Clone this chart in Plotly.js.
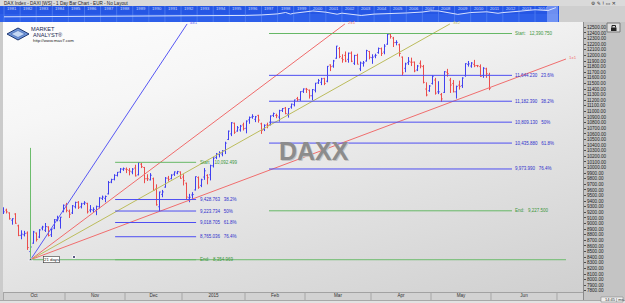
<!DOCTYPE html>
<html><head><meta charset="utf-8">
<script src="https://cdn.plot.ly/plotly-3.0.1.min.js"></script>
<style>
html,body{margin:0;padding:0;background:#d4d4d4;overflow:hidden;}
#chart{width:625px;height:303px;background:linear-gradient(165deg,#ffffff 0%,#f6f6f6 28%,#e2e2e2 62%,#cdcdcd 100%);}
</style></head><body><div id="chart"></div>
<script>
// ---------- DATA: DAX daily bars, Oct 1 2014 .. May 29 2015 (trading-day index 0..164) ----------
const barOpen = [9474,9383,9200,9240,9190,9060,9170,8960,8790,8800,8830,8500,8650,8830,8760,8920,8880,8940,8800,8920,9070,9050,9220,
9330,9220,9190,9300,9380,9300,9360,9360,9240,9240,9230,9300,9450,9450,9530,9740,9790,9860,9920,9970,
9970,9950,9920,9990,9870,10060,10000,9800,9780,9800,9620,9300,9520,9650,9810,9800,9880,9900,9920,
9830,9720,9460,9510,9600,9820,9680,9830,9860,9870,10030,10180,10230,10240,10300,10500,10600,10790,10650,10670,10760,
10700,10850,10900,10860,10930,10780,10680,10760,10770,10930,10930,10900,11020,11060,10950,11080,11120,11230,11210,11360,
11400,11380,11280,11380,11510,11520,11590,11540,11830,11810,11950,12120,11950,12000,11930,12040,11860,12000,11760,11860,11900,12070,
11960,11990,12050,12120,12060,12200,12380,12310,12230,12190,11970,11770,11870,11880,11880,11740,11860,11800,11400,11370,
11500,11560,11350,11300,11340,11700,11560,11500,11350,11470,11460,11640,11840,11810,11840,11820,11800,11640,11760,11650];
const barHigh = [9499,9395,9290,9266,9200,9095,9185,8980,8880,8870,8860,8620,8870,8840,8900,8960,9010,8950,8910,9080,9140,9120,9340,
9370,9250,9330,9390,9400,9370,9400,9370,9330,9290,9320,9470,9500,9500,9760,9800,9880,9920,9990,10000,
10000,9990,9990,10050,10093,10080,10010,9880,9900,9820,9700,9570,9600,9830,9850,9880,9930,9940,9930,
9880,9730,9530,9560,9840,9840,9800,9990,9880,10050,10190,10260,10290,10310,10460,10660,10810,10800,10740,10760,10800,
10840,10910,10950,10920,10940,10800,10770,10800,10930,10980,10960,11030,11060,11080,11060,11140,11210,11260,11360,11410,
11420,11390,11400,11510,11580,11600,11600,11810,11840,11920,12170,12150,12020,12070,12050,12070,12010,12030,11890,11900,12100,12080,
12020,12030,12140,12140,12200,12391,12390,12330,12270,12210,11980,11870,11970,11960,11890,11830,11910,11830,11520,11470,
11650,11600,11540,11330,11720,11760,11600,11560,11460,11550,11610,11860,11900,11880,11920,11830,11840,11790,11780,11690];
const barLow = [9370,9160,9170,9180,9070,8980,8995,8775,8720,8770,8530,8355,8640,8680,8740,8880,8850,8770,8760,8900,9040,8910,9200,
9200,9100,9170,9270,9260,9270,9330,9180,9200,9190,9150,9270,9420,9380,9520,9720,9770,9840,9900,9940,
9900,9860,9880,9840,9860,9990,9720,9760,9770,9580,9320,9220,9470,9640,9750,9790,9850,9880,9800,
9680,9430,9380,9440,9590,9620,9650,9780,9700,9770,10000,10150,10180,10200,10240,10490,10560,10600,10640,10640,10660,
10610,10780,10870,10810,10800,10600,10650,10700,10750,10900,10880,10820,10990,10950,10890,11050,11090,11180,11190,11330,
11330,11230,11200,11340,11490,11470,11470,11520,11720,11780,11940,11950,11870,11880,11870,11880,11830,11840,11720,11800,11890,11930,
11850,11950,12030,11990,12020,12190,12300,12150,12180,11980,11640,11700,11830,11810,11700,11720,11770,11500,11270,11350,
11480,11300,11310,11170,11330,11620,11330,11340,11230,11390,11420,11620,11800,11780,11790,11790,11620,11600,11600,11380];
const barClose = [9382,9195,9209,9209,9086,9086,9005,8788,8812,8825,8572,8582,8850,8717,8886,8940,8947,8788,8902,9068,9083,9114,9326,
9236,9166,9315,9377,9291,9351,9370,9210,9249,9252,9306,9456,9472,9483,9732,9785,9861,9915,9974,9980,
9963,9934,9971,9851,10087,10014,9799,9799,9862,9594,9335,9563,9564,9811,9787,9865,9922,9927,9806,
9765,9473,9470,9518,9838,9648,9782,9941,9818,10033,10168,10242,10257,10299,10435,10649,10798,10628,10710,10738,10694,
10828,10891,10911,10905,10846,10663,10753,10752,10919,10963,10924,11014,11051,10962,11051,11131,11206,11211,11353,11402,
11393,11280,11390,11504,11550,11582,11500,11806,11799,11901,12167,11980,11923,11899,12040,11896,12000,11843,11865,11868,12086,11966,
11969,12001,12124,12036,12166,12375,12338,12228,12232,12034,11688,11849,11896,11878,11723,11811,11811,11519,11294,11454,
11627,11327,11350,11224,11709,11674,11472,11351,11448,11447,11596,11853,11849,11864,11815,11815,11625,11771,11673,11413];

// month labels and first trading-day index of each month
const monthLabels = ['Oct','Nov','Dec','2015','Feb','Mar','Apr','May','Jun'];
const monthStart  = [0, 23, 43, 62, 83, 103, 125, 145, 165, 187];

// Gann fan (origin at Oct 16 low)
const fanOrigin = [11, 8354.969];
const fanEndDay   = [63.2, 115.8, 150.8, 189.5];
const fanEndPrice = [12561, 12561, 12561, 11936];
const fanLabels   = ['4x1','2x1','3x2','1x1'];
const fanBaseEnd  = 189.5;
const fanVertTop  = 10350;

// Fibonacci retracement 1 (Oct low -> Dec high)
const fib1Range  = [39.2, 66.2];
const fib1Levels = [10092.499, 9428.763, 9223.734, 9018.705, 8765.036, 8354.969];
const fib1Text   = ['Start    10,092.499','9,428.763   38.2%','9,223.734   50%','9,018.705   61.8%','8,765.036   76.4%','End:   8,354.969'];
// Fibonacci retracement 2 (Apr high -> target)
const fib2Range  = [90.5, 171.5];
const fib2Levels = [12390.750, 11644.230, 11182.390, 10809.130, 10435.880, 9973.990, 9227.500];
const fib2Text   = ['Start:   12,390.750','11,644.230   23.6%','11,182.390   38.2%','10,809.130   50%','10,435.880   61.8%','9,973.990   76.4%','End:   9,227.500'];

// overview strip (DAX history)
const ovYear  = [1981,1982,1983,1984,1985,1986,1987,1988,1989,1990,1991,1992,1993,1994,1995,1996,1997,1998,1998.5,1998.8,1999,2000,2000.2,2001,2001.7,2002,2002.8,2003.2,2004,2005,2006,2007,2007.5,2008,2009,2009.2,2010,2011,2011.7,2012,2013,2014,2014.8,2015,2015.3];
const ovValue = [490,550,770,1000,1000,1500,1400,1000,1330,1800,1400,1600,1550,2270,2100,2250,2890,4250,6000,4000,5000,6960,8000,6430,3800,5160,2600,2200,3960,4250,5400,6600,8100,8000,4800,3600,5950,6900,5000,5900,7600,9550,8500,9800,12300];
const ovYearLabels = [];
for (let y = 1981; y <= 2014; y++) ovYearLabels.push(y);

// ---------- helpers ----------
const W = 625, H = 303;
const PX = p => p / W;
const PY = p => 1 - p / H;
const FONT = 'Liberation Sans, Arial, sans-serif';
const BLUE = '#4040f0', RED = '#ec4c4c';

const traces = [];
// OHLC bars
traces.push({
  type: 'ohlc', x: barOpen.map((_, i) => i),
  open: barOpen, high: barHigh, low: barLow, close: barClose,
  increasing: {line: {color: BLUE, width: 1}},
  decreasing: {line: {color: RED, width: 1}},
  tickwidth: 0.4, hoverinfo: 'skip', showlegend: false
});
// fan lines
const fanColors = ['#5858f4', '#f06c6c', '#bcbc5c', '#f06e6e'];
fanEndDay.forEach((d, i) => {
  traces.push({type: 'scatter', mode: 'lines', x: [fanOrigin[0], d], y: [fanOrigin[1], fanEndPrice[i]],
    line: {color: fanColors[i], width: 1}, hoverinfo: 'skip', showlegend: false});
});
// fan horizontal & vertical (green)
traces.push({type: 'scatter', mode: 'lines', x: [fanOrigin[0], fanBaseEnd], y: [fanOrigin[1], fanOrigin[1]],
  line: {color: '#6cbc6c', width: 1}, hoverinfo: 'skip', showlegend: false});
traces.push({type: 'scatter', mode: 'lines', x: [fanOrigin[0], fanOrigin[0]], y: [fanOrigin[1], fanVertTop],
  line: {color: '#6cbc6c', width: 1}, hoverinfo: 'skip', showlegend: false});
// fib lines
function fibTraces(range, levels) {
  levels.forEach((v, i) => {
    const edge = (i === 0 || i === levels.length - 1);
    traces.push({type: 'scatter', mode: 'lines', x: range, y: [v, v],
      line: {color: edge ? '#66b866' : '#4e4ef2', width: 1}, hoverinfo: 'skip', showlegend: false});
  });
}
fibTraces(fib1Range, fib1Levels);
fibTraces(fib2Range, fib2Levels);
// fan origin markers
traces.push({type: 'scatter', mode: 'markers', x: [fanOrigin[0], 25.5], y: [fanOrigin[1], 8404],
  marker: {symbol: ['triangle-up', 'square'], size: [4, 3], color: '#1c1c5a'}, hoverinfo: 'skip', showlegend: false});
// overview line
traces.push({type: 'scatter', mode: 'lines', x: ovYear, y: ovValue, xaxis: 'x2', yaxis: 'y2',
  line: {color: '#d8e2ff', width: 1}, hoverinfo: 'skip', showlegend: false});

// ---------- shapes ----------
const shapes = [];
const rect = (x0, y0, x1, y1, fill, extra) => Object.assign({type: 'rect', xref: 'paper', yref: 'paper',
  x0: PX(x0), x1: PX(x1), y0: PY(y1), y1: PY(y0), fillcolor: fill, line: {width: 0}, layer: 'below'}, extra || {});
const hline = (x0, x1, y, col) => ({type: 'line', xref: 'paper', yref: 'paper', x0: PX(x0), x1: PX(x1), y0: PY(y), y1: PY(y), line: {color: col, width: 1}, layer: 'below'});
const vline = (x, y0, y1, col) => ({type: 'line', xref: 'paper', yref: 'paper', x0: PX(x), x1: PX(x), y0: PY(y0), y1: PY(y1), line: {color: col, width: 1}, layer: 'below'});

shapes.push(rect(0, 0, 625, 6, '#dadada'));
shapes.push(rect(0, 6, 559, 22, '#2556e4'));
shapes.push(rect(0, 14, 559, 22, '#2d5fea'));
shapes.push(rect(559, 6, 625, 22, '#cfcfcf'));
shapes.push(rect(0, 22, 3, 303, '#cbcbcb'));
shapes.push(rect(583, 22, 625, 300, '#c4c4c4'));
shapes.push(vline(583.5, 22, 300, '#8a8a8a'));
shapes.push(rect(3, 292, 583, 300, '#d2d2d2'));
shapes.push(hline(3, 583, 292.5, '#a2a2a2'));
shapes.push(rect(0, 300, 625, 303, '#e2e2e2'));
shapes.push(hline(0, 625, 300.5, '#a8a8a8'));
shapes.push(vline(3.5, 292, 300, '#a6a6a6'));
// month separators in the time band
monthStart.slice(1).forEach(s => shapes.push({type: 'line', xref: 'x', yref: 'paper', x0: s - 0.5, x1: s - 0.5,
  y0: PY(300), y1: PY(292.5), line: {color: '#a6a6a6', width: 1}, layer: 'below'}));
// overview year separators
ovYearLabels.forEach(y => shapes.push({type: 'line', xref: 'x2', yref: 'paper', x0: y, x1: y, y0: PY(22), y1: PY(6),
  line: {color: '#4a78ee', width: 1}, layer: 'below'}));
shapes.push(rect(547, 6, 558, 22, 'rgba(170,190,250,0.55)'));
// lock icon
shapes.push(rect(607, 23, 620, 32, '#dedede', {line: {color: '#7a7a7a', width: 1}}));
shapes.push(rect(611, 27.5, 616.5, 31, '#222222'));
shapes.push({type: 'path', xref: 'paper', yref: 'paper', layer: 'below',
  path: `M ${PX(612)},${PY(27.5)} L ${PX(612)},${PY(25.5)} L ${PX(615.5)},${PY(25.5)} L ${PX(615.5)},${PY(27.5)}`,
  line: {color: '#222', width: 1}});
// logo diamond
shapes.push({type: 'path', xref: 'paper', yref: 'paper', layer: 'below',
  path: `M ${PX(7)},${PY(34)} L ${PX(18)},${PY(28)} L ${PX(29)},${PY(34)} L ${PX(18)},${PY(40)} Z`,
  fillcolor: '#6f97dc', line: {color: '#1d3670', width: 1}});
shapes.push({type: 'path', xref: 'paper', yref: 'paper', layer: 'below',
  path: `M ${PX(11)},${PY(34)} L ${PX(18)},${PY(30.5)} L ${PX(25)},${PY(34)} L ${PX(18)},${PY(37.5)} Z`,
  fillcolor: '#c5d8f4', line: {color: '#3a5ea8', width: 0.6}});
// time band small box
shapes.push(rect(601, 297, 623, 302, '#eeeeee', {line: {color: '#888', width: 0.6}}));

// ---------- annotations ----------
const ann = [];
const txt = (x, y, text, size, color, extra) => Object.assign({xref: 'paper', yref: 'paper', x: PX(x), y: PY(y), text: text,
  showarrow: false, xanchor: 'left', yanchor: 'middle', font: {family: FONT, size: size, color: color}}, extra || {});
ann.push(txt(2, 3, 'DAX Index - DAXI [WS] - 1 Day Bar Chart - EUR - No Layout', 4.6, '#1e1e1e'));
ann.push(txt(589, 3, '⚙ ✎ ! ▭ ✕', 4.8, '#333', {font: {family: 'DejaVu Sans', size: 4.8, color: '#333'}}));
ovYearLabels.forEach(y => ann.push({xref: 'x2', yref: 'paper', x: y, y: PY(8.8), text: String(y), showarrow: false,
  xanchor: 'left', yanchor: 'middle', xshift: 1, font: {family: FONT, size: 4.2, color: '#c9d6ff'}}));
// logo
ann.push(txt(29, 28.8, 'MARKET', 5.6, '#1a2550'));
ann.push(txt(31, 35.2, 'ANALYST®', 5.6, '#1a2550'));
ann.push(txt(31, 41, 'http://www.mav7.com', 4.3, '#222'));
// watermark
ann.push(txt(278, 152, '<b>DAXX</b>', 25, '#c4c4c4'));
ann.push(txt(277, 151, '<b>DAXX</b>', 25, '#8c8c8c'));
// fan labels
fanEndDay.forEach((d, i) => ann.push({xref: 'x', yref: 'y', x: d, y: fanEndPrice[i], text: fanLabels[i], showarrow: false,
  xanchor: 'left', yanchor: 'middle', xshift: 1, yshift: 1, font: {family: FONT, size: 4.4, color: fanColors[i]}}));
// 21 days box
ann.push({xref: 'x', yref: 'y', x: 15, y: fanOrigin[1], text: '21 days', showarrow: false, xanchor: 'left', yanchor: 'middle',
  bgcolor: '#ffffff', bordercolor: '#333', borderwidth: 0.6, borderpad: 0.5, font: {family: FONT, size: 4.3, color: '#111'}});
// fib labels
function fibLabels(range, levels, texts) {
  levels.forEach((v, i) => {
    const edge = (i === 0 || i === levels.length - 1);
    ann.push({xref: 'x', yref: 'y', x: range[1], y: v, text: texts[i], showarrow: false, xanchor: 'left', yanchor: 'middle',
      xshift: 1.5, font: {family: FONT, size: 4.5, color: edge ? '#3c963c' : '#3030cc'}});
  });
}
fibLabels(fib1Range, fib1Levels, fib1Text);
fibLabels(fib2Range, fib2Levels, fib2Text);
ann.push(txt(603, 299.5, '14:45 | ms', 4, '#333'));

// month tick positions (centre of each month's visible span)
const xMin = 1.83, xMax = 195.17;
const tickPos = monthLabels.map((m, i) => ((i === 0 ? xMin : monthStart[i] - 0.5) + (monthStart[i + 1] - 0.5)) / 2);

const layout = {
  width: W, height: H, margin: {l: 0, r: 0, t: 0, b: 0, pad: 0},
  paper_bgcolor: 'rgba(0,0,0,0)', plot_bgcolor: 'rgba(0,0,0,0)', showlegend: false,
  xaxis: {domain: [PX(3), PX(583)], range: [xMin, xMax], showgrid: false, zeroline: false, showline: false,
    tickmode: 'array', tickvals: tickPos, ticktext: monthLabels, ticks: '', ticklabelstandoff: -1,
    tickfont: {family: FONT, size: 4.6, color: '#333'}, rangeslider: {visible: false}, fixedrange: true},
  yaxis: {domain: [1 - 292 / H, 1 - 22 / H], range: [7779, 12596], side: 'right', showgrid: false, zeroline: false,
    showline: false, tickmode: 'linear', tick0: 0, dtick: 100, tickformat: '.2f', ticks: 'outside', ticklen: 2,
    tickcolor: '#333', tickwidth: 0.8, ticklabelstandoff: 0, tickfont: {family: FONT, size: 4.6, color: '#1e1e1e'}, fixedrange: true},
  xaxis2: {domain: [0, PX(559)], range: [1980.75, 2015.49], anchor: 'y2', visible: false, fixedrange: true},
  yaxis2: {domain: [1 - 22 / H, 1 - 6 / H], range: [-6170, 14350], anchor: 'x2', visible: false, fixedrange: true},
  shapes: shapes, annotations: ann
};
Plotly.newPlot('chart', traces, layout, {staticPlot: true, displayModeBar: false});
</script></body></html>
